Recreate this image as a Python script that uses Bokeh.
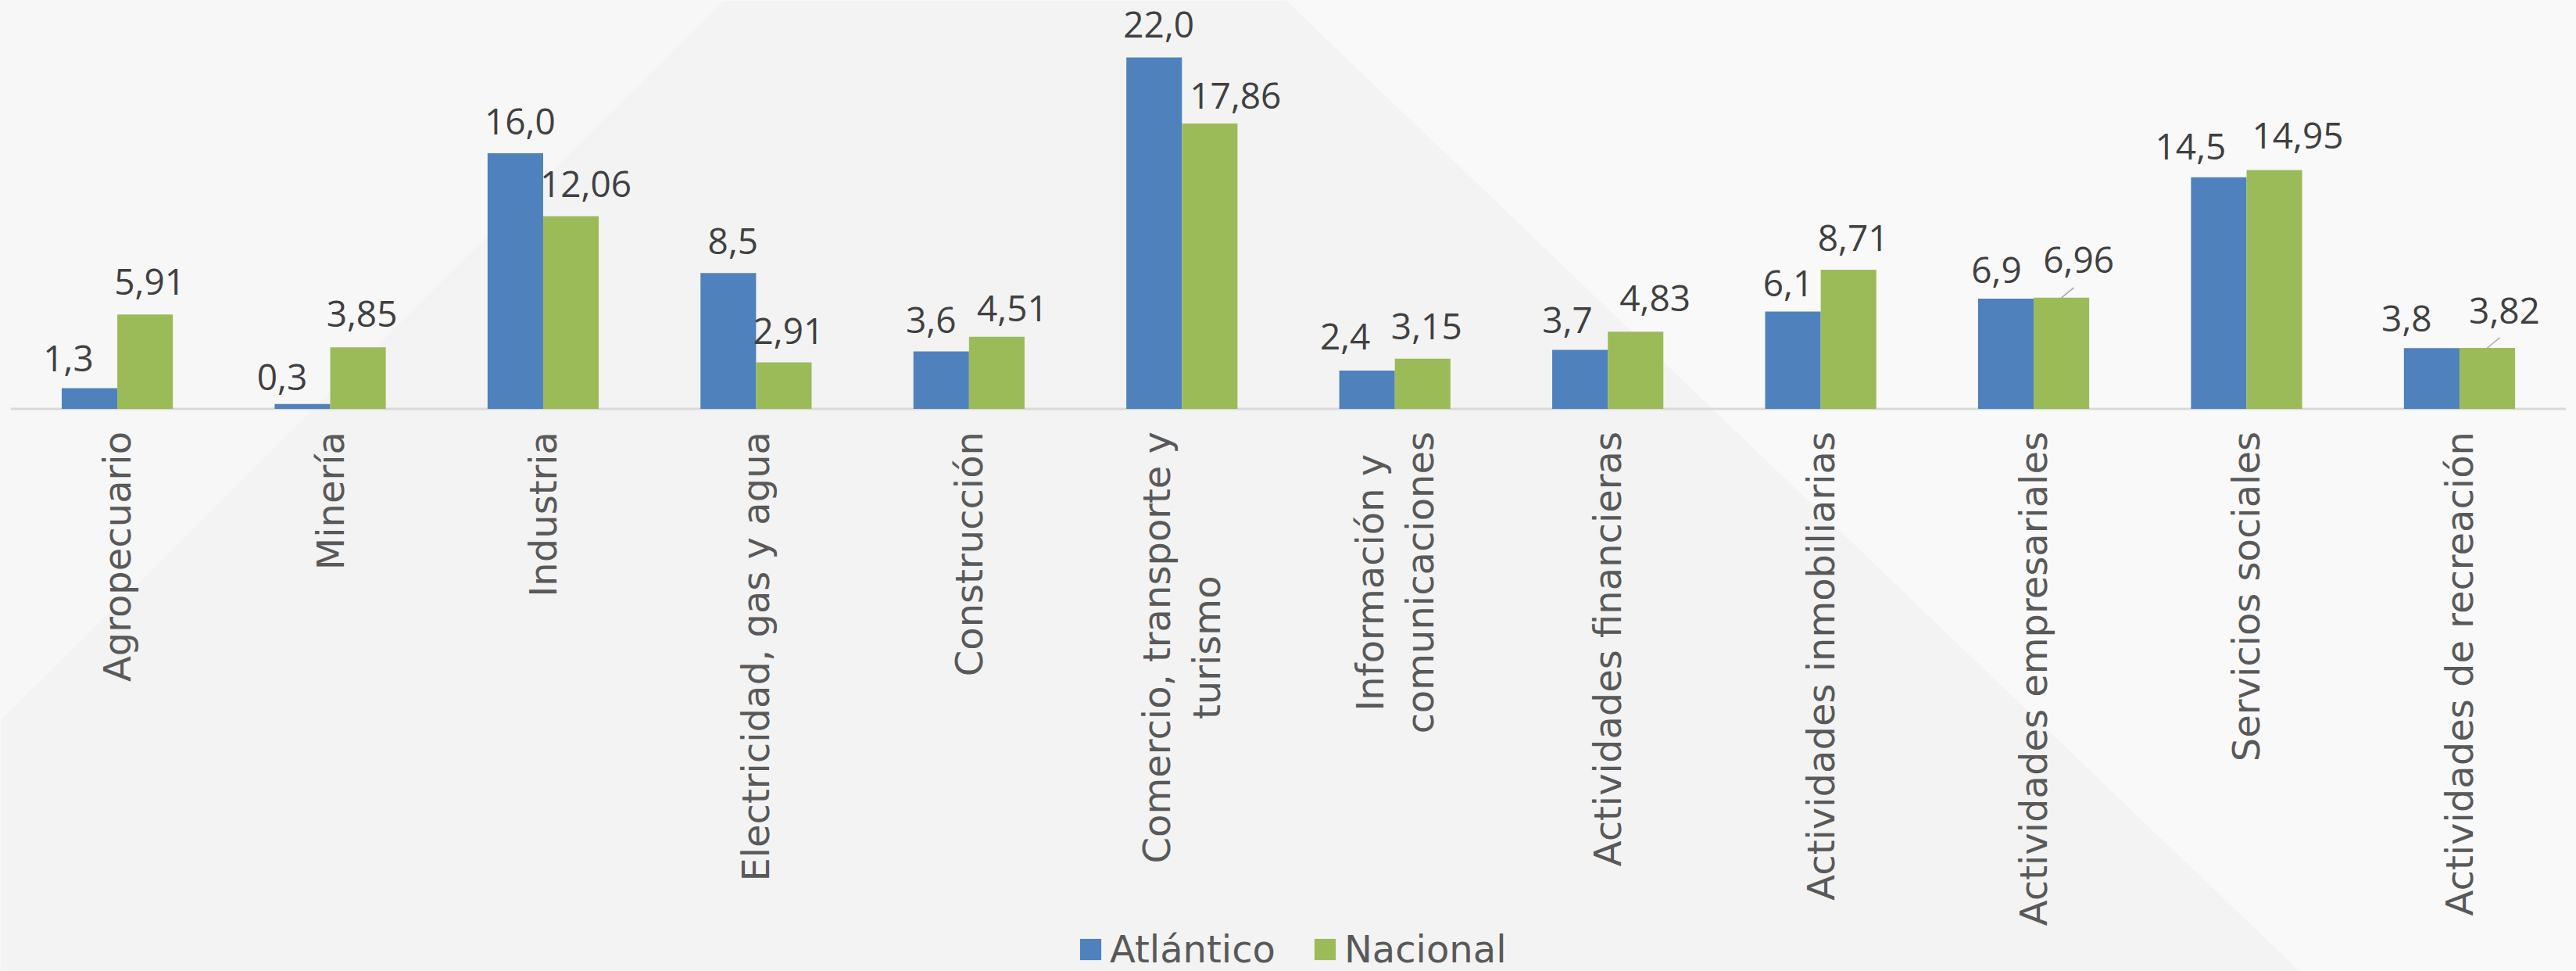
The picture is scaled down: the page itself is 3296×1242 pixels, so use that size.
import math
from bokeh.plotting import figure
from bokeh.models import ColumnDataSource, FactorRange, Range1d, Legend, LegendItem
from bokeh.transform import dodge
from bokeh.core.properties import value
from bokeh.embed import file_html
from bokeh.resources import INLINE

# ---------------- data ----------------
categories = [
    "Agropecuario", "Minería", "Industria", "Electricidad, gas y agua", "Construcción",
    "Comercio, transporte y turismo", "Información y comunicaciones", "Actividades financieras",
    "Actividades inmobiliarias", "Actividades empresariales", "Servicios sociales",
    "Actividades de recreación",
]
tick_labels = [
    "Agropecuario", "Minería", "Industria", "Electricidad, gas y agua", "Construcción",
    "Comercio, transporte y\nturismo", "Información y\ncomunicaciones", "Actividades financieras",
    "Actividades inmobiliarias", "Actividades empresariales", "Servicios sociales",
    "Actividades de recreación",
]
atlantico = [1.3, 0.3, 16.0, 8.5, 3.6, 22.0, 2.4, 3.7, 6.1, 6.9, 14.5, 3.8]
nacional = [5.91, 3.85, 12.06, 2.91, 4.51, 17.86, 3.15, 4.83, 8.71, 6.96, 14.95, 3.82]
series_names = ["Atlántico", "Nacional"]

# label nudges (screen px) as placed in the original chart
atl_dx = [-27, -26, 6, 6, -13, 6, -28, -16, -6, -12, -36, -32]
atl_gap = [21, 17, 24, 24, 23, 25, 26, 21, 19, 20, 22, 21]
nac_dx = [6, 5, 19, 6, 20, 33, 5, 25, 6, 22, 30, 22]
nac_gap = [25, 26, 24, 23, 19, 19, 24, 26, 24, 31, 27, 30]
nac_leader = [False] * 9 + [True, False, True]

# ---------------- layout constants ----------------
W, H = 3296, 1242
PAD = 0.049                # absolute padding on each side of the factor range
K = W / (len(categories) + 2 * PAD)   # px per category
S = 20.43                  # px per unit
BASE = 522.5               # baseline position (px from top of figure)
BAR_W = 0.261
LBL_HALF = 17              # half height of data-label digits (px)

BLUE = "#4F81BD"
GREEN = "#9BBB59"
FONT = "DejaVu Sans"
NUM_FONT = "Open Sans"


def px(fx, fy):
    """page pixel -> data coordinates (for decorative background only)"""
    return fx / K - PAD, (BASE - fy) / S


src = ColumnDataSource(dict(
    cat=categories,
    tick=tick_labels,
    atl=atlantico,
    nac=nacional,
    atl_lbl=[f"{v:.1f}".replace(".", ",") for v in atlantico],
    nac_lbl=[f"{v:.2f}".replace(".", ",") for v in nacional],
    atl_dx=atl_dx,
    atl_dy=[-(g + LBL_HALF) for g in atl_gap],
    nac_dx=nac_dx,
    nac_dy=[-(g + LBL_HALF) for g in nac_gap],
))

lead_idx = [i for i, f in enumerate(nac_leader) if f]
lead_src = ColumnDataSource(dict(
    cat=[categories[i] for i in lead_idx],
    y0=[nacional[i] for i in lead_idx],
    y1=[nacional[i] + 13 / S for i in lead_idx],
))

p = figure(
    width=W, height=H,
    x_range=FactorRange(factors=categories, range_padding=PAD, range_padding_units="absolute"),
    y_range=Range1d(-(H - BASE) / S, BASE / S),
    output_backend="svg", toolbar_location=None,
    x_axis_location=None, y_axis_location=None,
    min_border=0, outline_line_color=None,
    background_fill_color="#F3F3F3", border_fill_color="#F3F3F3",
)
p.grid.grid_line_color = None

# decorative background facets
l0, l1, l2 = px(-20, -20), px(946, -20), px(-20, 941)
p.patch([l0[0], l1[0], l2[0]], [l0[1], l1[1], l2[1]], color="#F7F7F7", line_color=None)
r0, r1, r2, r3 = px(1624, -20), px(3320, -20), px(3320, 1262), px(2963, 1262)
p.patch([r0[0], r1[0], r2[0], r3[0]], [r0[1], r1[1], r2[1], r3[1]], color="#F9F9F9", line_color=None)

# baseline (category axis line)
p.segment(x0=[0], y0=[0], x1=[len(categories)], y1=[0], line_color="#D9D9D9", line_width=3)

# bars
rb = p.vbar(x=dodge("cat", -BAR_W / 2, range=p.x_range), top="atl", width=BAR_W,
            source=src, fill_color=BLUE, line_color=None)
rg = p.vbar(x=dodge("cat", BAR_W / 2, range=p.x_range), top="nac", width=BAR_W,
            source=src, fill_color=GREEN, line_color=None)

# leader lines
p.segment(x0=dodge("cat", BAR_W / 2, range=p.x_range), y0="y0",
          x1=dodge("cat", BAR_W / 2 + 16 / K, range=p.x_range), y1="y1",
          source=lead_src, line_color="#A6A6A6", line_width=1.5)

# data labels
p.text(x=dodge("cat", -BAR_W / 2, range=p.x_range), y="atl", text="atl_lbl",
       x_offset="atl_dx", y_offset="atl_dy", source=src,
       text_align="center", text_baseline="middle",
       text_font=value(NUM_FONT), text_font_size="46px", text_color="#404040")
p.text(x=dodge("cat", BAR_W / 2, range=p.x_range), y="nac", text="nac_lbl",
       x_offset="nac_dx", y_offset="nac_dy", source=src,
       text_align="center", text_baseline="middle",
       text_font=value(NUM_FONT), text_font_size="46px", text_color="#404040")

# category labels (rotated)
p.text(x="cat", y=0, text="tick", source=src, angle=math.pi / 2,
       anchor=value("center_right"), text_align="center", text_baseline="middle",
       y_offset=29, text_font=value(FONT), text_font_size="48px",
       text_color="#595959", text_line_height=1.15)

legend = Legend(
    items=[LegendItem(label=series_names[0], renderers=[rb]),
           LegendItem(label=series_names[1], renderers=[rg])],
    orientation="horizontal", location=(1378, 0),
    glyph_width=34, glyph_height=34, label_standoff=8, spacing=46,
    padding=0, margin=0, border_line_color=None, background_fill_alpha=0,
    label_text_font=FONT, label_text_font_size="48px", label_text_color="#595959",
)
p.add_layout(legend)

open("out.html", "w").write(file_html(p, INLINE, title="Atlántico vs Nacional"))
